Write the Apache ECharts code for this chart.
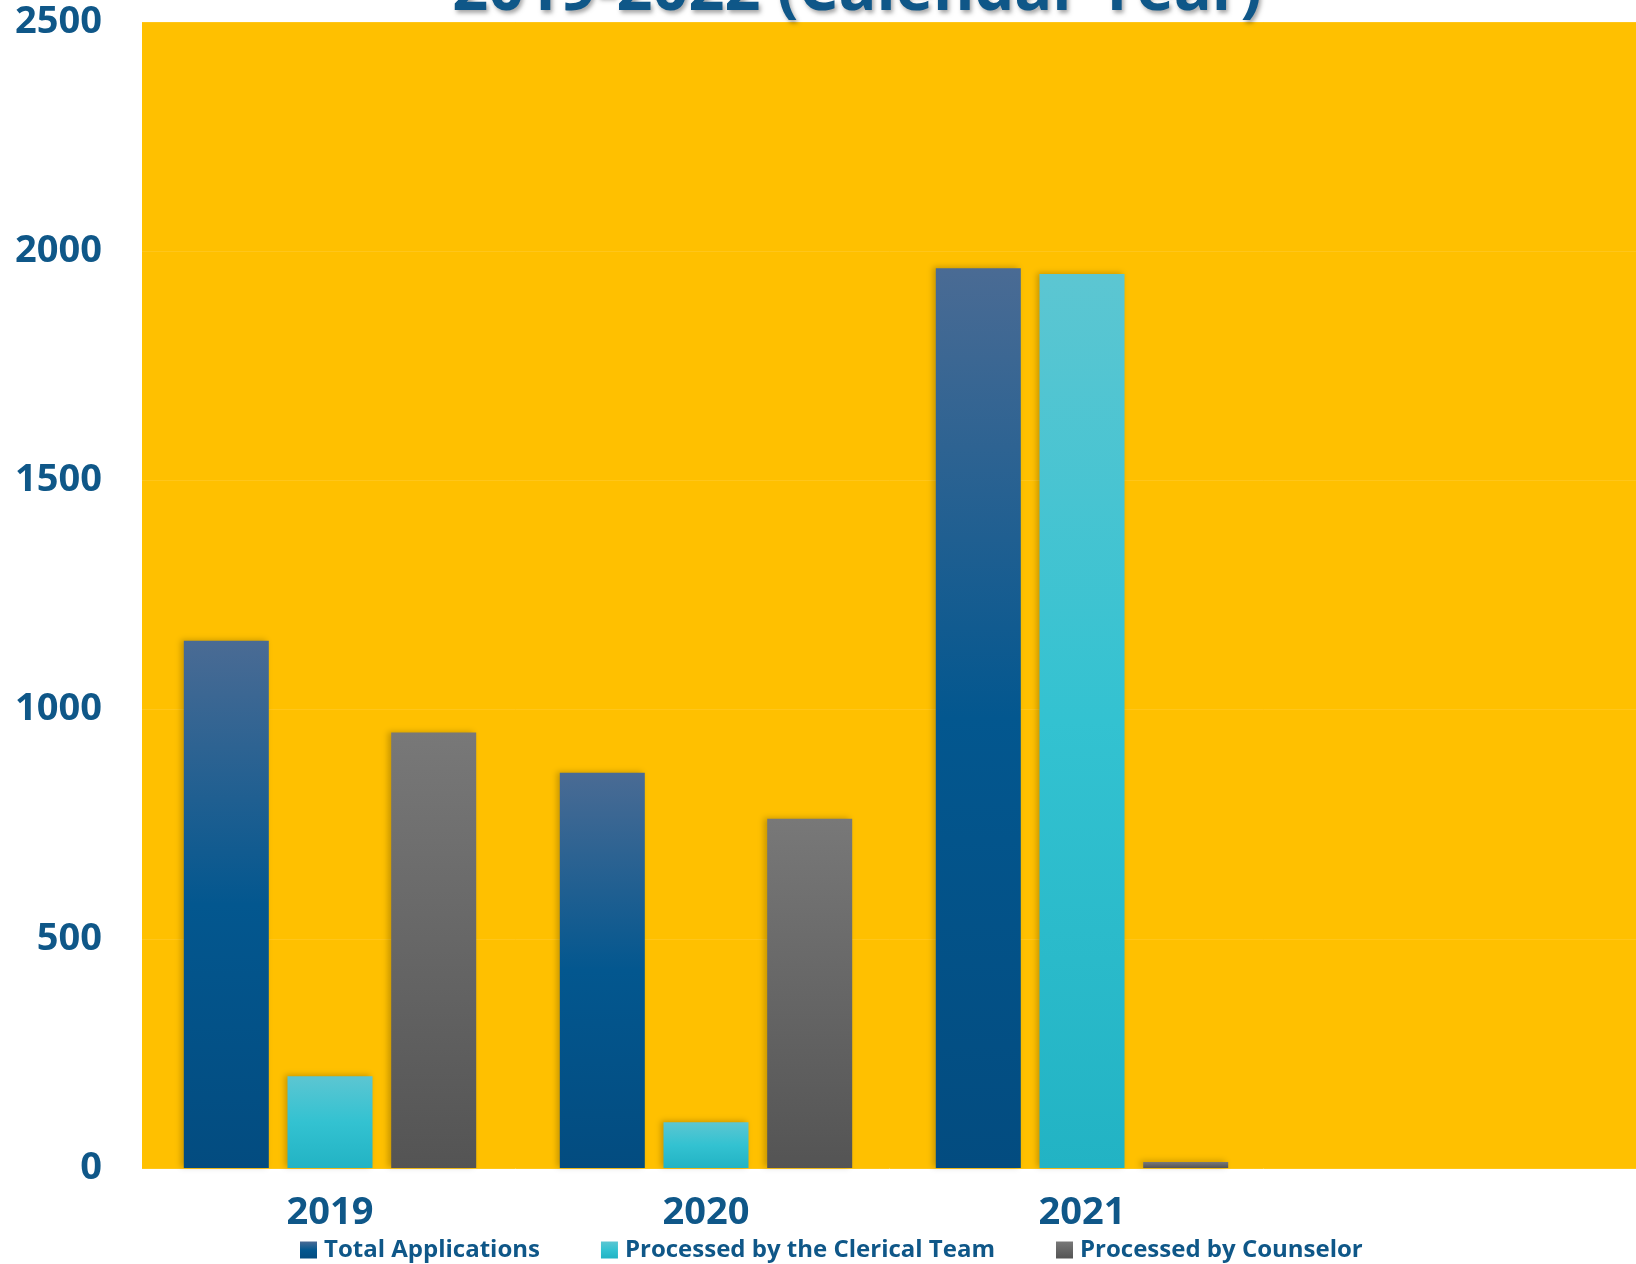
<!DOCTYPE html>
<html>
<head>
<meta charset="utf-8">
<script src="https://cdn.jsdelivr.net/npm/echarts@6/dist/echarts.min.js"></script>
<style>
html,body{margin:0;padding:0;background:#fff;}
#chart{width:1636px;height:1264px;}
</style>
</head>
<body>
<div id="chart"></div>
<script>
const titleText = '2019-2022 (Calendar Year)';
const categories = ['2019', '2020', '2021', ''];
const seriesNames = ['Total Applications', 'Processed by the Clerical Team', 'Processed by Counselor'];
const totalApplications = [1150, 862, 1963, null];
const processedClerical = [200, 100, 1950, null];
const processedCounselor = [950, 762, 13, null];
const yTicks = { min: 0, max: 2500, interval: 500 };

const textColor = '#0F5788';
const font = 'Open Sans';

function grad(stops) {
  return new echarts.graphic.LinearGradient(0, 0, 0, 1, stops.map(s => ({ offset: s[0], color: s[1] })));
}
const barShadow = { shadowColor: 'rgba(0,0,0,0.22)', shadowBlur: 6, shadowOffsetX: -3, shadowOffsetY: -1 };

const colors = [
  grad([[0, '#4A6B94'], [0.5, '#03578F'], [1, '#034C80']]),
  grad([[0, '#5CC6D2'], [0.5, '#33C2D1'], [1, '#22B3C4']]),
  grad([[0, '#787878'], [1, '#545454']])
];
const values = [totalApplications, processedClerical, processedCounselor];

const chart = echarts.init(document.getElementById('chart'), null, { renderer: 'canvas' });
chart.setOption({
  animation: false,
  backgroundColor: '#ffffff',
  title: {
    text: titleText,
    left: 852,
    top: -44,
    textAlign: 'center',
    textStyle: {
      fontFamily: font,
      fontWeight: 'bold',
      fontSize: 63,
      color: '#0F5788',
      textShadowColor: 'rgba(0,0,0,0.35)',
      textShadowBlur: 4,
      textShadowOffsetX: 2,
      textShadowOffsetY: 3
    }
  },
  legend: {
    left: 295,
    top: 1233,
    itemWidth: 17,
    itemHeight: 17,
    itemGap: 61,
    icon: 'rect',
    textStyle: { fontFamily: font, fontWeight: 'bold', fontSize: 24, color: textColor, padding: [0, 0, 0, 2] },
    data: seriesNames
  },
  grid: {
    left: 142, right: -10, top: 22, bottom: 96,
    outerBoundsMode: 'none',
    containLabel: false,
    show: true, backgroundColor: '#FFC000', borderWidth: 0
  },
  xAxis: {
    type: 'category',
    data: categories,
    axisLine: { show: false },
    axisTick: { show: false },
    axisLabel: { fontFamily: font, fontWeight: 'bold', fontSize: 38, color: textColor, margin: 26 }
  },
  yAxis: {
    type: 'value',
    min: yTicks.min, max: yTicks.max, interval: yTicks.interval,
    axisLine: { show: false },
    axisTick: { show: false },
    splitLine: { show: true, lineStyle: { color: '#FFC61A', width: 1 } },
    axisLabel: { fontFamily: font, fontWeight: 'bold', fontSize: 38, color: textColor, margin: 40,
      formatter: v => String(v) }
  },
  series: seriesNames.map((name, i) => ({
    name: name,
    type: 'bar',
    data: values[i],
    barWidth: 85,
    barGap: '22%',
    itemStyle: Object.assign({ color: colors[i] }, barShadow)
  }))
});
</script>
</body>
</html>
